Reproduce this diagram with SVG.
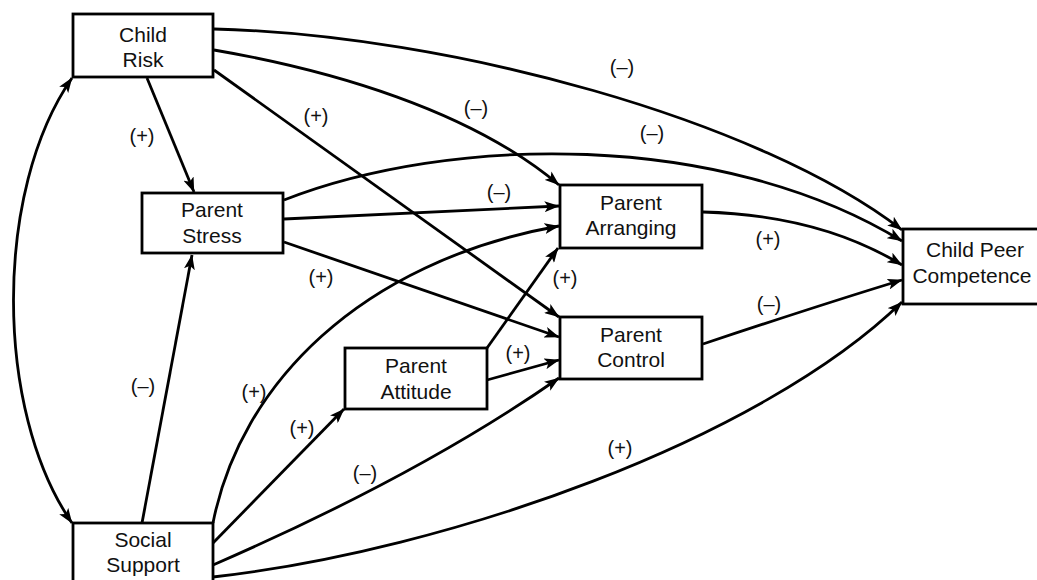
<svg xmlns="http://www.w3.org/2000/svg" width="1037" height="580" viewBox="0 0 1037 580">
<defs>
<marker id="ah" viewBox="0 0 15 11" refX="14.5" refY="5.5" markerWidth="15" markerHeight="11" markerUnits="userSpaceOnUse" orient="auto-start-reverse">
<path d="M0,0 L15,5.5 L0,11 L3.5,5.5 z" fill="#000"/>
</marker>
<style>
.box{fill:#fff;stroke:#000;stroke-width:2.8}
.t{font-family:"Liberation Sans",Arial,sans-serif;font-size:21px;fill:#111;text-anchor:middle}
.lb{font-family:"Liberation Sans",Arial,sans-serif;font-size:20px;fill:#111;text-anchor:middle}
.c{fill:none;stroke:#000;stroke-width:2.8;marker-end:url(#ah)}
</style>
</defs>
<rect width="1037" height="580" fill="#fff"/>
<g id="connectors">
<path class="c" style="marker-start:url(#ah)" d="M72,78 C-6,190 -6,410 72,523"/>
<path class="c" d="M147,78 L194,192"/>
<path class="c" d="M214,70 L559,317"/>
<path class="c" d="M214,50 C330,70 470,110 559,185"/>
<path class="c" d="M214,29 C450,35 760,120 902,230"/>
<path class="c" d="M284,200 C450,135 720,130 902,241"/>
<path class="c" d="M284,219 L559,206"/>
<path class="c" d="M284,242 L559,337"/>
<path class="c" d="M142,523 L192,255"/>
<path class="c" d="M213,523 C240,385 360,262 559,226"/>
<path class="c" d="M213,543 L344,409"/>
<path class="c" d="M213,565 Q420,475 559,378"/>
<path class="c" d="M213,577 C450,550 760,440 902,302"/>
<path class="c" d="M487,348 L558,248"/>
<path class="c" d="M487,380 L559,360"/>
<path class="c" d="M703,212 Q820,215 902,265"/>
<path class="c" d="M703,344 Q820,305 902,280"/>
</g>
<g id="child-risk"><rect class="box" x="73" y="14" width="140" height="63"/><text class="t" x="143" y="42">Child</text><text class="t" x="143" y="67">Risk</text></g>
<g id="parent-stress"><rect class="box" x="142" y="193" width="141" height="60"/><text class="t" x="212" y="217">Parent</text><text class="t" x="212" y="243">Stress</text></g>
<g id="parent-arranging"><rect class="box" x="560" y="185" width="142" height="63"/><text class="t" x="631" y="210">Parent</text><text class="t" x="631" y="235">Arranging</text></g>
<g id="parent-control"><rect class="box" x="560" y="317" width="142" height="62"/><text class="t" x="631" y="342">Parent</text><text class="t" x="631" y="367">Control</text></g>
<g id="parent-attitude"><rect class="box" x="345" y="348" width="142" height="61"/><text class="t" x="416" y="373">Parent</text><text class="t" x="416" y="399">Attitude</text></g>
<g id="social-support"><rect class="box" x="73" y="523" width="140" height="70"/><text class="t" x="143" y="547">Social</text><text class="t" x="143" y="572">Support</text></g>
<g id="child-peer-competence"><rect class="box" x="903" y="229" width="140" height="75"/><text class="t" x="975" y="257">Child Peer</text><text class="t" x="972" y="283">Competence</text></g>
<g id="labels">
<text class="lb" x="142" y="143">(+)</text>
<text class="lb" x="316" y="123">(+)</text>
<text class="lb" x="476" y="115">(–)</text>
<text class="lb" x="622" y="74">(–)</text>
<text class="lb" x="652" y="140">(–)</text>
<text class="lb" x="499" y="199">(–)</text>
<text class="lb" x="321" y="284">(+)</text>
<text class="lb" x="768" y="246">(+)</text>
<text class="lb" x="565" y="285">(+)</text>
<text class="lb" x="518" y="360">(+)</text>
<text class="lb" x="769" y="311">(–)</text>
<text class="lb" x="143" y="393">(–)</text>
<text class="lb" x="254" y="399">(+)</text>
<text class="lb" x="302" y="435">(+)</text>
<text class="lb" x="365" y="480">(–)</text>
<text class="lb" x="620" y="455">(+)</text>
</g>
</svg>
